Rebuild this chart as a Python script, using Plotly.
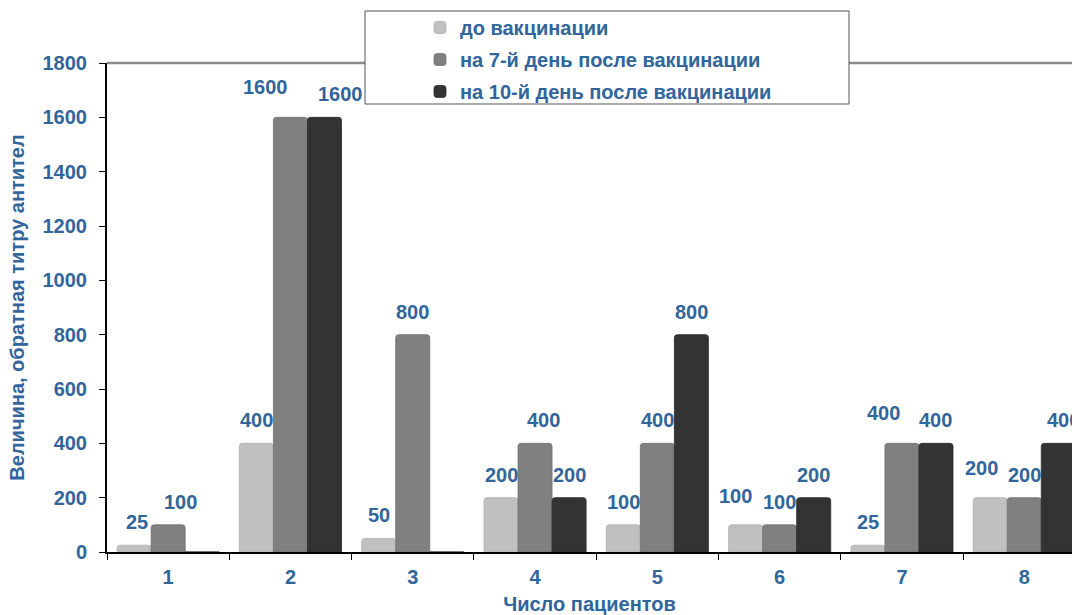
import plotly.graph_objects as go

# Patients (categories) and reciprocal antibody titres per time point
patients = ["1", "2", "3", "4", "5", "6", "7", "8"]
before_vacc = [25, 400, 50, 200, 100, 100, 25, 200]
day7_vacc = [100, 1600, 800, 400, 400, 100, 400, 200]
day10_vacc = [0, 1600, 0, 200, 800, 200, 400, 400]

series_names = [
    "до вакцинации",
    "на 7-й день после вакцинации",
    "на 10-й день после вакцинации",
]
series_values = [before_vacc, day7_vacc, day10_vacc]
series_colors = ["#C0C0C0", "#808080", "#333333"]
outline_colors = ["#B0B0B0", "#707070", "#2A2A2A"]

TEXT_BLUE = "#31659C"
FONT = "Liberation Sans, Arial, sans-serif"
FS = 20

# Plot geometry (px)
W, H = 1072, 615
ML, MR, MT, MB = 107, 0, 63, 63
PW, PH = W - ML - MR, H - MT - MB
CAT_PX = 122.3            # width of one category slot
BAR_STEP = 34             # horizontal distance between neighbouring bars


def bold(size=FS):
    return dict(family=FONT, size=size, color=TEXT_BLUE, weight="bold")


fig = go.Figure()
for i, (name, vals) in enumerate(zip(series_names, series_values)):
    fig.add_trace(go.Bar(
        x=patients, y=vals, name=name,
        legendgroup=f"g{i}",
        marker=dict(color=series_colors[i],
                    line=dict(color=outline_colors[i], width=0.8)),
    ))

# value labels above the bars; small nudges keep neighbouring labels apart
nudge = {
    (0, 0): (3, 0), (1, 0): (12, 0),
    (1, 1): (-25, 7), (2, 1): (16, 0),
    (1, 3): (8, 0),
    (0, 5): (-10, 6),
    (1, 6): (-18, 7),
    (0, 7): (-9, 7), (2, 7): (5, 0),
}
annotations = []
for s, vals in enumerate(series_values):
    for c, v in enumerate(vals):
        if not v:
            continue
        dx, dy = nudge.get((s, c), (0, 0))
        annotations.append(dict(
            x=c, y=v, xref="x", yref="y",      # category index on the x axis
            text=str(v), showarrow=False,
            xshift=(s - 1) * BAR_STEP + dx, yshift=23 + dy,
            xanchor="center", yanchor="middle",
            font=bold(),
        ))


def px_x(p):
    return (p - ML) / PW


def px_y(p):
    return (H - MB - p) / PH


shapes = [
    # grey top frame line
    dict(type="line", xref="paper", yref="paper", x0=0, x1=1, y0=1, y1=1,
         line=dict(color="#8C8C8C", width=2.5), layer="above"),
    # legend frame
    dict(type="rect", xref="paper", yref="paper",
         x0=px_x(365), x1=px_x(849), y0=px_y(104), y1=px_y(11),
         fillcolor="white", line=dict(color="#555555", width=1), layer="above"),
]

fig.update_layout(
    width=W, height=H,
    margin=dict(l=ML, r=MR, t=MT, b=MB, pad=0),
    paper_bgcolor="white", plot_bgcolor="white",
    barmode="group", bargap=0.165, bargroupgap=0.0,
    barcornerradius=3,
    font=bold(),
    showlegend=True,
    legend=dict(
        x=px_x(420), y=px_y(8), xanchor="left", yanchor="top",
        bgcolor="rgba(0,0,0,0)", borderwidth=0,
        traceorder="grouped", tracegroupgap=3,
        font=bold(20),
    ),
    annotations=annotations,
    shapes=shapes,
)

fig.update_xaxes(
    type="category", range=[-0.5, -0.5 + PW / CAT_PX],
    tickson="boundaries", ticks="outside", ticklen=6, tickcolor="black",
    ticklabelstandoff=6,
    showline=True, linecolor="black", linewidth=1.5,
    showgrid=False, zeroline=False,
    tickfont=bold(),
    title=dict(text="Число пациентов", standoff=12, font=bold()),
)
fig.update_yaxes(
    range=[0, 1800], dtick=200, ticks="outside", ticklen=6, tickcolor="black",
    ticklabelstandoff=8,
    showline=True, linecolor="black", linewidth=2,
    showgrid=False, zeroline=False,
    tickfont=bold(),
    title=dict(text="Величина, обратная титру антител", standoff=13, font=bold()),
)

fig.write_html("out.html")
